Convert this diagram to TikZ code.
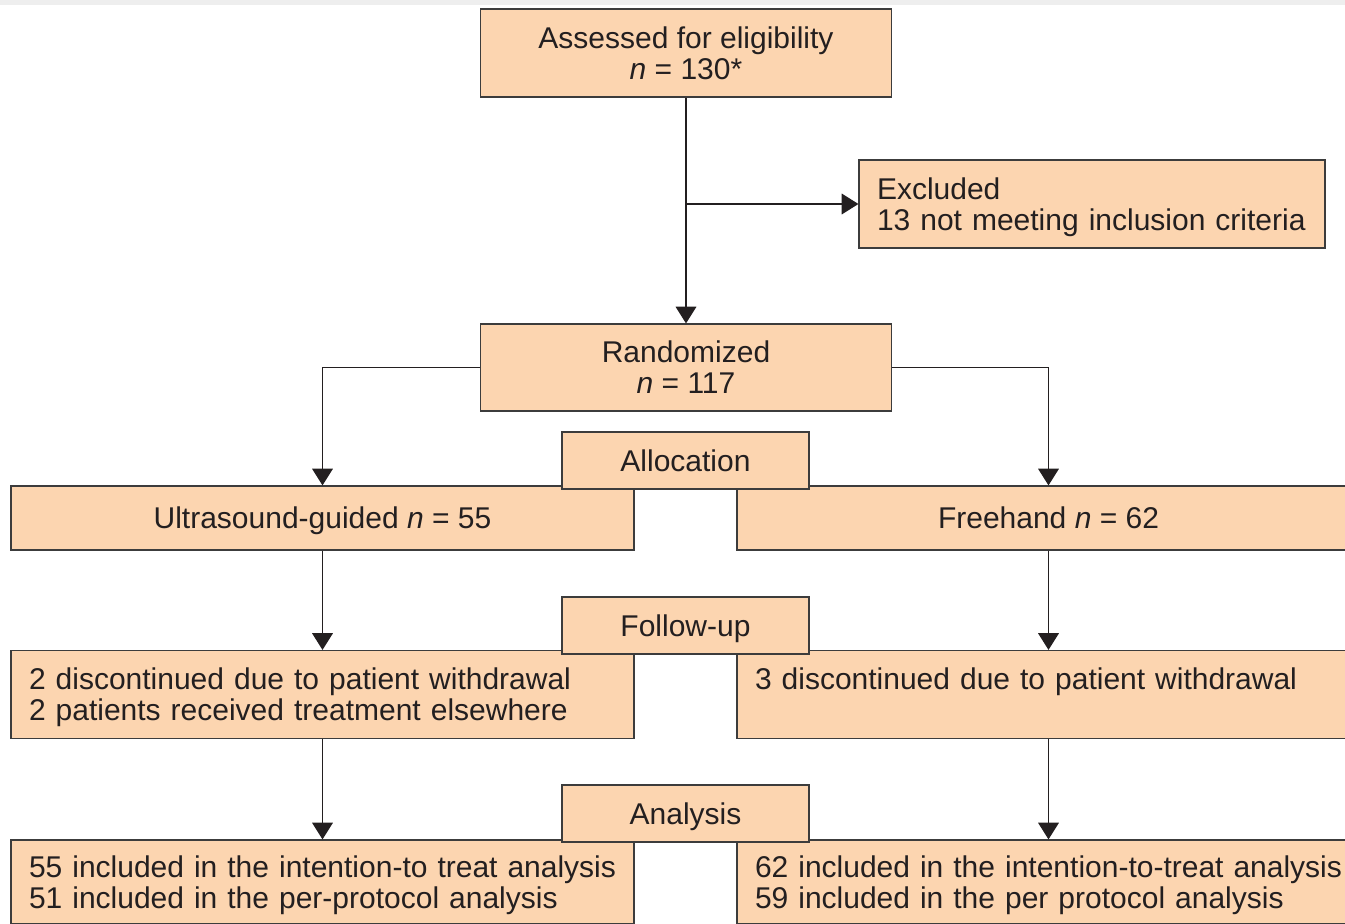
\documentclass[tikz,border=0pt]{standalone}
\usepackage{fontspec}
\setmainfont{Liberation Sans}
\usetikzlibrary{arrows.meta}
\definecolor{boxfill}{RGB}{252,213,176}
\definecolor{boxline}{RGB}{60,60,60}
\definecolor{txt}{RGB}{35,31,32}
\definecolor{topband}{RGB}{238,238,238}
\begin{document}
\begin{tikzpicture}[x=0.75pt,y=-0.75pt,
  box/.style={draw=boxline, fill=boxfill, line width=0.9pt, text=txt,
    font=\fontsize{22.5pt}{23.3pt}\selectfont, inner sep=0pt, align=center},
  onebox/.style={box, text depth=0pt},
  twobox/.style={box, text depth=23.3pt},
  lbox/.style={twobox, align=left, inner xsep=13.5pt},
  conn/.style={draw=txt, line width=0.9pt},
  arr/.style={conn, -{Triangle[length=12.5pt,width=15.5pt]}}
]
\useasboundingbox (0,0) rectangle (1345,924);
\clip (0,0) rectangle (1345,924);
\fill[topband] (0,0) rectangle (1345,5);

% top
\node[onebox, minimum width=308.25pt, minimum height=66pt] (assess) at (686,53)
  {Assessed for eligibility\\\textit{n}~=~130*};
\node[lbox, text width=322.5pt, minimum height=66pt] (excl) at (1092,204)
  {\mbox{Excluded}\\\mbox{13 not meeting inclusion criteria}};
\node[onebox, minimum width=308.25pt, minimum height=65.25pt] (rand) at (686,367.5)
  {Randomized\\\textit{n}~=~117};

% allocation
\node[onebox, minimum width=467.25pt, minimum height=48pt] (us) at (322.5,518)
  {Ultrasound-guided \textit{n}~=~55};
\node[onebox, minimum width=467.25pt, minimum height=48pt] (fh) at (1048.5,518)
  {Freehand \textit{n}~=~62};
\node[onebox, minimum width=185.25pt, minimum height=42.75pt] (alloc) at (685.5,460.5)
  {Allocation};

% follow-up
\node[lbox, text width=440.25pt, minimum height=66pt] (usf) at (322.5,694.5)
  {\mbox{2 discontinued due to patient withdrawal}\\\mbox{2 patients received treatment elsewhere}};
\node[lbox, text width=440.25pt, minimum height=66pt] (fhf) at (1048.5,694.5)
  {\mbox{3 discontinued due to patient withdrawal}\\\mbox{}};
\node[onebox, minimum width=185.25pt, minimum height=42.75pt] (follow) at (685.5,625.5)
  {Follow-up};

% analysis
\node[lbox, text width=440.25pt, minimum height=63pt] (usa) at (322.5,882)
  {\mbox{55 included in the intention-to treat analysis}\\\mbox{51 included in the per-protocol analysis}};
\node[lbox, text width=440.25pt, minimum height=63pt] (fha) at (1048.5,882)
  {\mbox{62 included in the intention-to-treat analysis}\\\mbox{59 included in the per protocol analysis}};
\node[onebox, minimum width=185.25pt, minimum height=42.75pt] (anal) at (685.5,813.5)
  {Analysis};

% connectors
\draw[arr] (assess.south) -- (rand.north);
\draw[arr] (assess.south |- excl.west) -- (excl.west);
\draw[arr] (rand.west) -| (us.north);
\draw[arr] (rand.east) -| (fh.north);
\draw[arr] (us.south) -- (usf.north);
\draw[arr] (fh.south) -- (fhf.north);
\draw[arr] (usf.south) -- (usa.north);
\draw[arr] (fhf.south) -- (fha.north);
\end{tikzpicture}
\end{document}
